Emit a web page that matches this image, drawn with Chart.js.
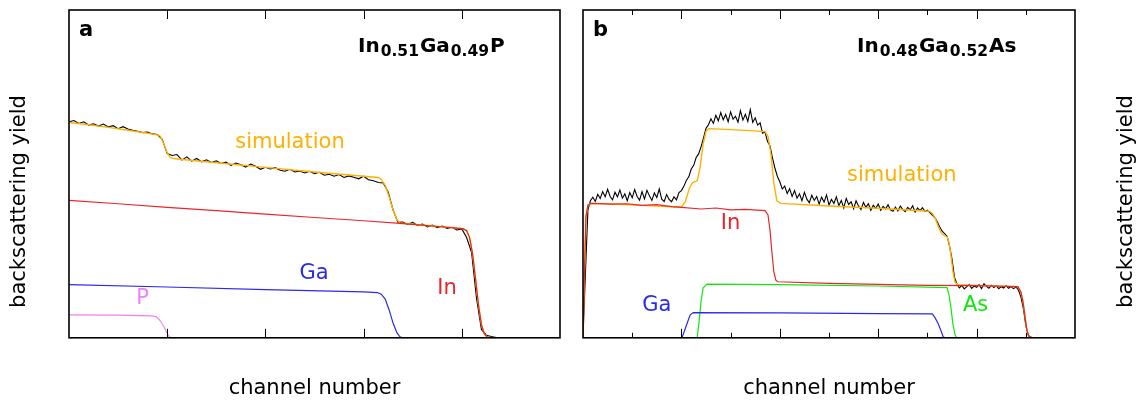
<!DOCTYPE html>
<html>
<head>
<meta charset="utf-8">
<script src="https://cdn.jsdelivr.net/npm/chart.js@4.4.0/dist/chart.umd.min.js"></script>
<style>
  html, body { margin: 0; padding: 0; background: #fff; }
  #wrap { position: relative; width: 1147px; height: 403px; }
  .panel { position: absolute; top: 0; height: 403px; }
  #panel-a { left: 0; width: 572px; }
  #panel-b { left: 572px; width: 575px; }
</style>
</head>
<body>
<div id="wrap">
  <div class="panel" id="panel-a"><canvas id="chart-a"></canvas></div>
  <div class="panel" id="panel-b"><canvas id="chart-b"></canvas></div>
</div>
<script>
// ---- panel a : In0.51Ga0.49P ----
const aChannels = [0, 5, 10, 15, 20, 25, 30, 35, 40, 45, 50, 55, 60, 65, 70, 75, 80, 85, 90, 95,
  100, 105, 110, 115, 120, 125, 130, 135, 140, 145, 150, 155, 160, 165, 170, 175, 180, 185, 190, 195,
  200, 205, 210, 215, 220, 225, 230, 235, 240, 245, 250, 255, 260, 265, 270, 275, 280, 285, 290, 295,
  300, 305, 310, 315, 320, 325, 330, 335, 340, 345, 350, 355, 360, 365, 370, 375, 380, 385, 390, 395,
  400, 405, 410, 415, 420, 425, 430, 435, 440];
const aMeasured = [65.9, 66.3, 65.4, 65.9, 64.9, 65.3, 64.6, 65.2, 64.3, 64.7, 63.8, 64.4, 63.7, 63.3, 63.0, 62.6, 62.8, 62.2, 62.0, 60.5,
  56.2, 55.6, 55.9, 54.2, 55.2, 53.9, 54.7, 53.7, 54.3, 53.5, 54.0, 53.2, 53.6, 52.6, 53.3, 52.8, 52.1, 53.0, 52.3, 51.4,
  52.0, 51.5, 51.9, 51.1, 50.8, 51.4, 50.6, 50.9, 50.3, 50.8, 50.1, 50.5, 49.6, 49.9, 49.3, 49.8, 48.9, 49.4, 49.0, 48.5,
  49.3, 48.2, 47.9, 47.4, 47.2, 44.5, 39.0, 35.2, 35.3, 34.6, 35.2, 34.3, 34.7, 33.8, 34.4, 33.6, 34.1, 33.4, 33.7, 32.9,
  33.2, 30.5, 26.0, 12.0, 2.5, 0.8, 0.4, 0.1, 0];

const aSimChannels = [0, 20, 40, 60, 80, 90, 93, 96, 100, 103, 108, 150, 200, 250, 300, 315, 318, 322, 326, 330,
  334, 337, 370, 401, 405, 408, 411, 414, 417, 420, 423, 426, 430, 500];
const aSimulation = [65.7, 65.0, 64.2, 63.3, 62.4, 61.9, 61.5, 59.5, 56.5, 55.0, 54.6, 53.4, 52.0, 50.6, 49.3, 48.9, 48.3, 46.5, 43.0, 39.0,
  36.0, 35.0, 34.1, 33.3, 32.7, 30.5, 25.5, 18.0, 10.0, 4.0, 1.2, 0.2, 0, 0];

const aInChannels = [0, 50, 100, 150, 200, 250, 300, 337, 370, 401, 405, 408, 411, 414, 417, 420, 423, 426, 430, 500];
const aIn = [41.9, 40.9, 39.8, 38.8, 37.7, 36.7, 35.7, 34.9, 34.1, 33.3, 32.7, 30.5, 25.5, 18.0, 10.0, 4.0, 1.2, 0.2, 0, 0];

const aGaChannels = [0, 100, 200, 300, 314, 318, 322, 326, 330, 334, 337, 340, 500];
const aGa = [16.2, 15.5, 14.7, 14.0, 13.8, 13.3, 11.8, 8.5, 4.5, 1.5, 0.3, 0, 0];

const aPChannels = [0, 50, 85, 89, 93, 97, 100, 103, 500];
const aP = [7.0, 6.9, 6.7, 6.4, 5.2, 3.2, 1.3, 0, 0];

// ---- panel b : In0.48Ga0.52As ----
const bChannels = [0, 2.5, 5, 7.5, 10, 12.5, 15, 17.5, 20, 22.5, 25, 27.5, 30, 32.5, 35, 37.5, 40, 42.5, 45, 47.5,
  50, 52.5, 55, 57.5, 60, 62.5, 65, 67.5, 70, 72.5, 75, 77.5, 80, 82.5, 85, 87.5, 90, 92.5, 95, 97.5,
  100, 102.5, 105, 107.5, 110, 112.5, 115, 117.5, 120, 122.5, 125, 127.5, 130, 132.5, 135, 137.5, 140, 142.5, 145, 147.5,
  150, 152.5, 155, 157.5, 160, 162.5, 165, 167.5, 170, 172.5, 175, 177.5, 180, 182.5, 185, 187.5, 190, 192.5, 195, 197.5,
  200, 202.5, 205, 207.5, 210, 212.5, 215, 217.5, 220, 222.5, 225, 227.5, 230, 232.5, 235, 237.5, 240, 242.5, 245, 247.5,
  250, 252.5, 255, 257.5, 260, 262.5, 265, 267.5, 270, 272.5, 275, 277.5, 280, 282.5, 285, 287.5, 290, 292.5, 295, 297.5,
  300, 302.5, 305, 307.5, 310, 312.5, 315, 317.5, 320, 322.5, 325, 327.5, 330, 332.5, 335, 337.5, 340, 342.5, 345, 347.5,
  350, 352.5, 355, 357.5, 360, 362.5, 365, 367.5, 370, 372.5, 375, 377.5, 380, 382.5, 385, 387.5, 390, 392.5, 395, 397.5,
  400, 402.5, 405, 407.5, 410, 412.5, 415, 417.5, 420, 422.5, 425, 427.5, 430, 432.5, 435, 437.5, 440, 442.5, 445, 447.5,
  450, 452.5, 455, 457.5, 460];
const bMeasured = [0, 20.0, 39.0, 41.8, 42.9, 41.6, 43.8, 42.5, 44.6, 43.0, 45.3, 43.2, 42.1, 44.4, 43.0, 45.1, 42.6, 43.9, 41.8, 44.3,
  42.7, 45.2, 43.1, 42.0, 44.6, 42.4, 45.0, 43.3, 41.9, 44.2, 42.8, 45.4, 42.3, 41.6, 43.7, 42.2, 41.5, 43.0, 42.1, 44.3,
  44.9, 46.2, 48.0, 49.1, 51.5, 52.6, 55.0, 56.1, 58.3, 61.0, 63.9, 65.0, 66.8, 65.4, 67.9, 66.2, 68.7, 66.5, 68.1, 65.9,
  68.9, 66.7, 67.6, 65.8, 69.3, 66.4, 68.2, 66.0, 69.6, 65.7, 67.1, 64.9, 65.6, 62.4, 62.8, 59.9, 58.6, 55.0, 51.8, 49.3,
  47.6, 45.4, 46.3, 44.0, 45.5, 43.1, 44.9, 42.6, 43.9, 41.8, 44.4, 42.3, 41.2, 43.5, 41.9, 43.1, 40.8, 42.9, 41.4, 43.6,
  40.5, 42.2, 41.0, 43.0, 40.3, 41.9, 39.6, 42.5, 40.7, 41.5, 39.4, 41.8, 40.2, 39.1, 41.3, 39.8, 40.9, 38.9, 40.4, 39.5,
  40.8, 38.9, 40.1, 39.3, 40.6, 39.0, 38.6, 39.9, 38.7, 40.2, 39.1, 38.5, 39.8, 39.0, 40.3, 38.4, 39.6, 38.8, 39.7, 38.5,
  38.9, 38.2, 37.4, 36.7, 35.4, 33.8, 32.5, 31.8, 31.0, 28.0, 24.0, 18.5, 16.4, 15.2, 16.0, 14.9, 15.6, 16.3, 15.1, 15.8,
  15.4, 16.2, 15.0, 16.5, 15.7, 15.1, 16.0, 15.3, 15.9, 15.0, 15.6, 15.2, 15.9, 15.1, 15.6, 15.0, 15.5, 14.6, 12.5, 9.0,
  3.8, 0.8, 0.2, 0, 0];

const bSimChannels = [0, 1.5, 3, 5, 8, 30, 60, 90, 100, 104, 108, 111, 116, 119, 122, 125, 128, 150, 170, 185,
  188, 191, 194, 197, 201, 250, 300, 352, 355, 358, 361, 364, 367, 370, 372, 374, 376, 378, 381, 400,
  442, 445, 447, 449, 451, 453, 456, 500];
const bSimulation = [0, 20, 37, 40.5, 41.0, 40.8, 40.4, 40.0, 39.9, 41.5, 45.5, 47.3, 47.9, 52.0, 59.0, 63.0, 63.8, 63.5, 63.2, 62.9,
  61.5, 56.0, 47.0, 41.8, 41.0, 40.2, 39.5, 38.6, 38.0, 36.4, 34.0, 32.0, 31.2, 30.8, 29.0, 25.0, 20.0, 17.0, 16.2, 16.0,
  15.6, 14.0, 11.3, 7.0, 2.5, 0.5, 0, 0];

const bInChannels = [0, 1.5, 3, 5, 8, 30, 45, 60, 75, 90, 100, 120, 135, 150, 165, 185, 188, 190, 192, 194,
  196, 198, 250, 300, 350, 400, 442, 445, 447, 449, 451, 453, 456, 500];
const bIn = [0, 20, 37, 40.5, 41.0, 40.8, 40.9, 40.4, 40.6, 40.0, 39.8, 39.3, 39.6, 39.0, 39.2, 38.8, 37.5, 33.0, 26.0, 20.0,
  17.6, 17.1, 16.6, 16.3, 16.0, 15.9, 15.6, 14.0, 11.3, 7.0, 2.5, 0.5, 0, 0];

const bGaChannels = [0, 100.5, 103, 106, 109, 112, 200, 300, 355, 358, 361, 364, 366, 368, 500];
const bGa = [0, 0, 2.0, 4.6, 7.0, 7.7, 7.6, 7.4, 7.3, 6.0, 4.3, 2.0, 0.3, 0, 0];

const bAsChannels = [0, 116, 118, 120, 122, 126, 200, 300, 370, 372, 374, 376, 378, 380, 500];
const bAs = [0, 0, 5.0, 11.3, 15.2, 16.4, 16.2, 15.8, 15.3, 13.0, 9.0, 4.0, 1.0, 0, 0];

const majorTicks = [100, 200, 300, 400];
const minorTicksB = [50, 150, 250, 350, 450];

const COLORS = {
    measured: '#000000',
    simulation: '#ffb000',
    In: '#e8262a',
    Ga: '#2a2aea',
    As: '#11e611',
    P: '#ee82ee'
};

const FONT = "'DejaVu Sans', sans-serif";

function points(xs, ys) {
    return xs.map((x, i) => ({ x: x, y: ys[i] }));
}

function line(data, color, width) {
    return {
        data: data,
        borderColor: color,
        borderWidth: width || 1.2,
        pointRadius: 0,
        tension: 0,
        fill: false
    };
}

// frame, inward tick marks, in-plot labels and the rotated y title
const decorPlugin = {
    id: 'decor',
    afterDraw(chart, args, opts) {
        const { ctx, chartArea: area, scales: { x, y } } = chart;
        ctx.save();

        // tick marks pointing into the plot, top and bottom
        ctx.strokeStyle = '#000';
        ctx.lineWidth = 1;
        const drawTicks = (vals, len) => {
            vals.forEach(v => {
                const px = Math.round(x.getPixelForValue(v)) + 0.5;
                ctx.beginPath();
                ctx.moveTo(px, area.top);
                ctx.lineTo(px, area.top + len);
                ctx.moveTo(px, area.bottom);
                ctx.lineTo(px, area.bottom - len);
                ctx.stroke();
            });
        };
        drawTicks(opts.major || [], 9);
        drawTicks(opts.minor || [], 5);

        // frame
        ctx.lineWidth = 1.6;
        ctx.strokeRect(area.left, area.top, area.right - area.left, area.bottom - area.top);

        // panel letter
        ctx.fillStyle = '#000';
        ctx.font = 'bold 21px ' + FONT;
        ctx.textAlign = 'left';
        ctx.textBaseline = 'alphabetic';
        ctx.fillText(opts.letter, area.left + 10, area.top + 26);

        // compound formula with subscripts
        let fx = area.left + opts.formulaX;
        const fy = area.top + 42;
        opts.formula.forEach(part => {
            ctx.font = 'bold ' + (part.sub ? 15.5 : 20) + 'px ' + FONT;
            if (part.sub) fx += 1;
            ctx.fillText(part.t, fx, part.sub ? fy + 4 : fy);
            fx += ctx.measureText(part.t).width + (part.sub ? 1 : 0);
        });

        // series labels placed in data coordinates
        ctx.font = '21px ' + FONT;
        ctx.textAlign = 'center';
        ctx.textBaseline = 'middle';
        opts.labels.forEach(l => {
            ctx.fillStyle = l.color;
            ctx.fillText(l.text, x.getPixelForValue(l.x), y.getPixelForValue(l.y));
        });

        // y axis title, centred on the figure height
        ctx.fillStyle = '#000';
        ctx.translate(opts.yTitleX, chart.height / 2);
        ctx.rotate(-Math.PI / 2);
        ctx.fillText('backscattering yield', 0, 0);
        ctx.restore();
    }
};

function makeChart(canvasId, datasets, padding, decor) {
    return new Chart(document.getElementById(canvasId), {
        type: 'line',
        data: { datasets: datasets },
        options: {
            responsive: true,
            maintainAspectRatio: false,
            animation: false,
            layout: { padding: padding },
            plugins: {
                legend: { display: false },
                tooltip: { enabled: false },
                decor: decor
            },
            scales: {
                x: {
                    type: 'linear',
                    min: 0,
                    max: 500,
                    ticks: { display: false },
                    grid: { display: false, drawTicks: false },
                    border: { display: false },
                    title: {
                        display: true,
                        text: 'channel number',
                        color: '#000',
                        font: { family: FONT, size: 21 },
                        padding: { top: 38, bottom: 2 }
                    }
                },
                y: {
                    display: false,
                    min: 0,
                    max: 100
                }
            }
        },
        plugins: [decorPlugin]
    });
}

makeChart('chart-a', [
    line(points(aInChannels, aIn), COLORS.In),
    line(points(aSimChannels, aSimulation), COLORS.simulation, 1.4),
    line(points(aChannels, aMeasured), COLORS.measured, 1.1),
    line(points(aGaChannels, aGa), COLORS.Ga),
    line(points(aPChannels, aP), COLORS.P)
], { left: 69, top: 10, right: 12, bottom: 0 }, {
    letter: 'a',
    formulaX: 289,
    formula: [{ t: 'In' }, { t: '0.51', sub: true }, { t: 'Ga' }, { t: '0.49', sub: true }, { t: 'P' }],
    major: majorTicks,
    minor: [],
    yTitleX: 20,
    labels: [
        { text: 'simulation', x: 225, y: 59.6, color: COLORS.simulation },
        { text: 'Ga', x: 249.5, y: 19.6, color: COLORS.Ga },
        { text: 'In', x: 385, y: 15, color: COLORS.In },
        { text: 'P', x: 75, y: 11.9, color: COLORS.P }
    ]
});

makeChart('chart-b', [
    line(points(bInChannels, bIn), COLORS.In),
    line(points(bSimChannels, bSimulation), COLORS.simulation, 1.4),
    line(points(bChannels, bMeasured), COLORS.measured, 1.1),
    line(points(bGaChannels, bGa), COLORS.Ga),
    line(points(bAsChannels, bAs), COLORS.As)
], { left: 11, top: 10, right: 72, bottom: 0 }, {
    letter: 'b',
    formulaX: 274,
    formula: [{ t: 'In' }, { t: '0.48', sub: true }, { t: 'Ga' }, { t: '0.52', sub: true }, { t: 'As' }],
    major: majorTicks,
    minor: minorTicksB,
    yTitleX: 555,
    labels: [
        { text: 'simulation', x: 324, y: 49.5, color: COLORS.simulation },
        { text: 'In', x: 150, y: 34.9, color: COLORS.In },
        { text: 'Ga', x: 75, y: 9.8, color: COLORS.Ga },
        { text: 'As', x: 399, y: 9.8, color: COLORS.As }
    ]
});
</script>
</body>
</html>
